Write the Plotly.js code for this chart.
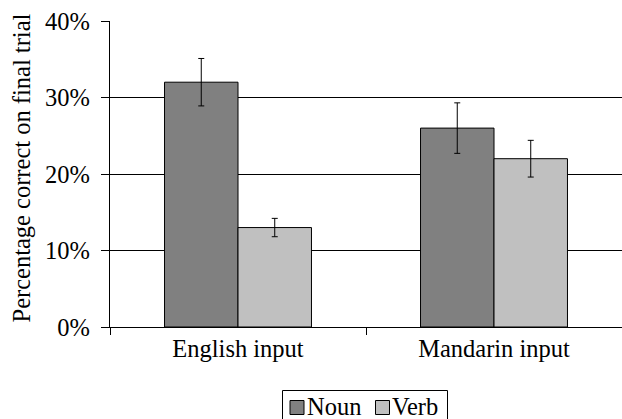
<!DOCTYPE html>
<html>
<head>
<meta charset="utf-8">
<script src="https://cdn.plot.ly/plotly-3.0.1.min.js"></script>
<style>html,body{margin:0;padding:0;background:#fff;}#chart{width:622px;height:419px;}</style>
</head>
<body>
<div id="chart"></div>
<script>
const categories = ["English input", "Mandarin input"];
const seriesNames = ["Noun", "Verb"];
const seriesColors = ["#808080", "#C0C0C0"];
const nounValues = [32, 26];
const nounErrors = [3.1, 3.3];
const verbValues = [13, 22];
const verbErrors = [1.2, 2.4];
const yTickValues = [0, 10, 20, 30, 40];
const yTickLabels = ["0%", "10%", "20%", "30%", "40%"];
const yTitle = "Percentage correct on final trial";

const FAM = 'Liberation Serif';
const FS = 24.5;
function f(size) { return {family: FAM, size: size, color: "#000"}; }

const traces = [
  {type: "bar", name: seriesNames[0], x: categories, y: nounValues, showlegend: false,
   marker: {color: seriesColors[0], line: {color: "#000", width: 1}},
   error_y: {type: "data", array: nounErrors, visible: true, color: "#000", thickness: 1, width: 3}},
  {type: "bar", name: seriesNames[1], x: categories, y: verbValues, showlegend: false,
   marker: {color: seriesColors[1], line: {color: "#000", width: 1}},
   error_y: {type: "data", array: verbErrors, visible: true, color: "#000", thickness: 1, width: 3}}
];

// Legend (box, swatches, labels) placed below the plot, as in the original
const W = 622, H = 419, L = 110, R = 0, T = 21, B = 92;
const pw = W - L - R, ph = H - T - B;
const px = v => (v - L) / pw;
const py = v => (H - B - v) / ph;
const legendBox = {x0: 282.5, x1: 447.5, y0: 390.5, y1: 425};
const legendItems = [
  {sx0: 290, sx1: 304, tx: 305},
  {sx0: 375.5, sx1: 389.5, tx: 390}
];
const shapes = [{type: "rect", xref: "paper", yref: "paper",
  x0: px(legendBox.x0), x1: px(legendBox.x1), y0: py(legendBox.y0), y1: py(legendBox.y1),
  line: {color: "#000", width: 1}, fillcolor: "rgba(0,0,0,0)"}];
const annotations = [];
legendItems.forEach((it, i) => {
  shapes.push({type: "rect", xref: "paper", yref: "paper",
    x0: px(it.sx0), x1: px(it.sx1), y0: py(400.5), y1: py(414.5),
    line: {color: "#000", width: 1}, fillcolor: seriesColors[i]});
  annotations.push({xref: "paper", yref: "paper", x: px(it.tx), y: py(406),
    xanchor: "left", yanchor: "middle", showarrow: false, text: seriesNames[i], font: f(FS)});
});
// Y-axis title
annotations.push({xref: "paper", yref: "paper", x: px(21), y: py(168.5),
  xanchor: "center", yanchor: "middle", textangle: -90, showarrow: false,
  text: yTitle, font: f(FS)});

const layout = {
  width: W, height: H,
  margin: {l: L, r: R, t: T, b: B, autoexpand: false},
  paper_bgcolor: "#fff", plot_bgcolor: "#fff",
  font: f(FS),
  barmode: "group", bargap: 0.426, bargroupgap: 0,
  showlegend: false,
  shapes: shapes, annotations: annotations,
  xaxis: {showline: true, linecolor: "#000", linewidth: 1, ticks: "outside", ticklen: 7,
          tickcolor: "#000", tickson: "boundaries", showgrid: false, automargin: false,
          tickfont: f(FS)},
  yaxis: {range: [0, 40], tickvals: yTickValues,
          ticktext: yTickLabels.map(s => s + "\u00a0"),
          showline: true, linecolor: "#000", linewidth: 1, ticks: "outside", ticklen: 8,
          tickcolor: "#000", showgrid: true, gridcolor: "#000", gridwidth: 1,
          zeroline: false, tickfont: f(FS), automargin: false}
};

Plotly.newPlot("chart", traces, layout, {displayModeBar: false, staticPlot: true});
</script>
</body>
</html>
